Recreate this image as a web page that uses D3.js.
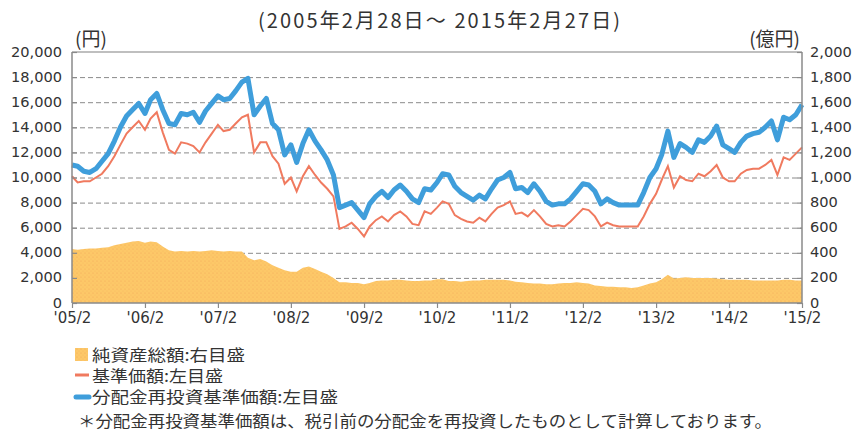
<!DOCTYPE html>
<meta charset="utf-8">
<style>
body { margin: 0; background: #fff; }
text { fill: #333; }
.jp { font-family: "Noto Sans CJK JP", sans-serif; }
.num { font-family: "DejaVu Sans", sans-serif; font-size: 14.6px; }
</style>
<body>
<script src="https://cdn.jsdelivr.net/npm/d3@7"></script>
<script>

// months, 2005/2 .. 2015/2 (one point per month)
var months = [
  "2005-02","2005-03","2005-04","2005-05","2005-06","2005-07","2005-08","2005-09","2005-10","2005-11","2005-12",
  "2006-01","2006-02","2006-03","2006-04","2006-05","2006-06","2006-07","2006-08","2006-09","2006-10","2006-11","2006-12",
  "2007-01","2007-02","2007-03","2007-04","2007-05","2007-06","2007-07","2007-08","2007-09","2007-10","2007-11","2007-12",
  "2008-01","2008-02","2008-03","2008-04","2008-05","2008-06","2008-07","2008-08","2008-09","2008-10","2008-11","2008-12",
  "2009-01","2009-02","2009-03","2009-04","2009-05","2009-06","2009-07","2009-08","2009-09","2009-10","2009-11","2009-12",
  "2010-01","2010-02","2010-03","2010-04","2010-05","2010-06","2010-07","2010-08","2010-09","2010-10","2010-11","2010-12",
  "2011-01","2011-02","2011-03","2011-04","2011-05","2011-06","2011-07","2011-08","2011-09","2011-10","2011-11","2011-12",
  "2012-01","2012-02","2012-03","2012-04","2012-05","2012-06","2012-07","2012-08","2012-09","2012-10","2012-11","2012-12",
  "2013-01","2013-02","2013-03","2013-04","2013-05","2013-06","2013-07","2013-08","2013-09","2013-10","2013-11","2013-12",
  "2014-01","2014-02","2014-03","2014-04","2014-05","2014-06","2014-07","2014-08","2014-09","2014-10","2014-11","2014-12",
  "2015-01","2015-02"
];

// 分配金再投資基準価額 (円)
var reinvested = [
  11000,10900,10500,10400,10700,11300,11900,12900,14000,14900,15400,
  15900,15100,16200,16700,15400,14300,14200,15100,15000,15200,14400,15300,
  15900,16500,16200,16300,16900,17600,17900,15000,15700,16300,14300,13800,
  11800,12600,11200,12700,13800,12900,12200,11400,10200,7600,7800,8000,
  7400,6800,7900,8500,8900,8400,9000,9400,8900,8300,8000,9100,
  9000,9600,10300,10200,9300,8800,8500,8200,8600,8300,9100,9800,
  10000,10400,9100,9200,8800,9500,8900,8100,7800,7900,7900,8300,
  8900,9500,9400,8900,7900,8300,8000,7800,7800,7800,7800,8800,
  10000,10700,11800,13700,11600,12700,12400,12000,13000,12800,13300,14100,
  12600,12300,12000,12800,13300,13500,13600,14000,14500,13000,14800,14600,
  15000,15800
];

// 基準価額 (円)
var nav = [
  10100,9600,9700,9700,10000,10300,10900,11700,12600,13500,14000,
  14500,13800,14700,15200,13600,12200,11900,12800,12700,12500,12000,12800,
  13500,14200,13700,13800,14300,14800,15000,12000,12800,12800,11700,11100,
  9500,10000,8900,10100,10900,10200,9600,9100,8500,5900,6100,6400,
  5900,5300,6100,6600,6900,6500,7000,7300,6900,6300,6200,7300,
  7100,7600,8100,7900,7000,6700,6500,6400,6800,6500,7100,7600,
  7800,8100,7100,7200,6900,7400,6900,6300,6100,6200,6100,6500,
  7000,7500,7400,6900,6100,6400,6200,6100,6100,6100,6100,6900,
  7900,8700,9800,10900,9200,10100,9800,9700,10300,10100,10500,11000,
  10000,9700,9700,10300,10600,10700,10700,11000,11400,10200,11600,11400,
  11900,12400
];

// 純資産総額 (億円)
var netAssets = [
  430,425,430,435,435,440,445,460,470,480,490,
  495,480,490,485,450,420,410,415,410,415,410,415,
  420,415,410,415,410,410,360,340,350,330,300,280,
  260,250,250,280,290,270,250,230,200,165,165,160,
  160,150,160,175,180,180,185,185,180,175,175,180,
  180,190,190,175,175,170,175,180,180,185,185,185,
  185,180,170,165,160,155,155,150,150,155,160,160,
  165,160,155,140,135,130,130,125,125,120,125,140,
  155,165,190,225,195,200,205,200,200,200,200,195,
  190,185,185,185,185,180,180,180,180,180,185,185,
  180,180
];

var leftTicks = [0,2000,4000,6000,8000,10000,12000,14000,16000,18000,20000];
var rightTicks = [0,200,400,600,800,1000,1200,1400,1600,1800,2000];
var yearTicks = ["2005-02","2006-02","2007-02","2008-02","2009-02","2010-02","2011-02","2012-02","2013-02","2014-02","2015-02"];

var titleText = "(2005年2月28日～ 2015年2月27日)";
var legendItems = ["純資産総額:右目盛", "基準価額:左目盛", "分配金再投資基準価額:左目盛"];
var legendWidths = [153, 131, 246];
var noteText = "＊分配金再投資基準価額は、税引前の分配金を再投資したものとして計算しております。";

var W = 857, H = 434;
var plot = {left: 72, right: 802, top: 52, bottom: 303};

var parse = d3.timeParse("%Y-%m");
var dates = months.map(parse);

var x = d3.scaleTime()
    .domain([parse("2005-02"), parse("2015-02")])
    .range([plot.left, plot.right]);
var yL = d3.scaleLinear().domain([0, 20000]).range([plot.bottom, plot.top]);
var yR = d3.scaleLinear().domain([0, 2000]).range([plot.bottom, plot.top]);

var svg = d3.select("body").append("svg")
    .attr("width", W)
    .attr("height", H);

// dotted fill for the area
var pat = svg.append("defs").append("pattern")
    .attr("id", "dots")
    .attr("width", 4).attr("height", 4)
    .attr("patternUnits", "userSpaceOnUse");
pat.append("rect").attr("width", 4).attr("height", 4).attr("fill", "#fdc868");
pat.append("circle").attr("cx", 1).attr("cy", 1).attr("r", 0.6).attr("fill", "#f3a75a");
pat.append("circle").attr("cx", 3).attr("cy", 3).attr("r", 0.5).attr("fill", "#f7b860");

// grid lines
svg.append("g")
  .selectAll("line")
  .data(leftTicks.filter(function(d) { return d > 0 && d < 20000; }))
  .enter().append("line")
    .attr("x1", plot.left).attr("x2", plot.right)
    .attr("y1", function(d) { return yL(d) + 0.5; })
    .attr("y2", function(d) { return yL(d) + 0.5; })
    .attr("stroke", "#8a8a8a")
    .attr("stroke-width", 1)
    .attr("stroke-dasharray", "5,3");

svg.append("line")
    .attr("x1", plot.left).attr("x2", plot.right)
    .attr("y1", yL(20000)).attr("y2", yL(20000))
    .attr("stroke", "#aaa")
    .attr("stroke-width", 1.5);

// net assets area
var area = d3.area()
    .x(function(d, i) { return x(dates[i]); })
    .y0(yR(0))
    .y1(function(d) { return yR(d); });

svg.append("path")
    .datum(netAssets)
    .attr("d", area)
    .attr("fill", "url(#dots)");

// lines
var lineL = d3.line()
    .x(function(d, i) { return x(dates[i]); })
    .y(function(d) { return yL(d); });

svg.append("path")
    .datum(nav)
    .attr("d", lineL)
    .attr("fill", "none")
    .attr("stroke", "#f07a5f")
    .attr("stroke-width", 2);

svg.append("path")
    .datum(reinvested)
    .attr("d", lineL)
    .attr("fill", "none")
    .attr("stroke", "#3f9edb")
    .attr("stroke-width", 5)
    .attr("stroke-linejoin", "round");

// axes
var leftAxis = d3.axisLeft(yL)
    .tickValues(leftTicks)
    .tickSize(-5)
    .tickPadding(10)
    .tickFormat(d3.format(","));
var gL = svg.append("g")
    .attr("class", "num")
    .attr("transform", "translate(" + plot.left + ",0)")
    .call(leftAxis);

var rightAxis = d3.axisRight(yR)
    .tickValues(rightTicks)
    .tickSize(-5)
    .tickPadding(8)
    .tickFormat(d3.format(","));
var gR = svg.append("g")
    .attr("class", "num")
    .attr("transform", "translate(" + plot.right + ",0)")
    .call(rightAxis);

var bottomAxis = d3.axisBottom(x)
    .tickValues(yearTicks.map(parse))
    .tickSize(5)
    .tickPadding(4)
    .tickFormat(d3.timeFormat("'%y/%-m"));
var gB = svg.append("g")
    .attr("class", "num")
    .attr("transform", "translate(0," + plot.bottom + ")")
    .call(bottomAxis);

[gL, gR, gB].forEach(function(g) {
  g.attr("font-family", null).attr("font-size", null);
  g.select(".domain").attr("stroke", "#8a8a8a").attr("stroke-width", 1.5);
  g.selectAll(".tick line").attr("stroke", "#8a8a8a").attr("stroke-width", 1.2);
  g.selectAll(".tick text").attr("fill", "#333");
});
gL.select(".domain").attr("d", "M0," + plot.bottom + "V" + plot.top);
gR.select(".domain").attr("d", "M0," + plot.bottom + "V" + plot.top);
gB.select(".domain").attr("d", "M" + plot.left + ",0H" + plot.right);
gB.selectAll(".tick text").attr("font-size", "15px");
gR.selectAll(".tick text").attr("dy", "0.28em");
gL.selectAll(".tick text").attr("dy", "0.28em");

// titles / unit labels
svg.append("text")
    .attr("class", "jp")
    .attr("x", 258).attr("y", 28)
    .attr("font-size", "20px")
    .attr("textLength", 362)
    .attr("lengthAdjust", "spacing")
    .text(titleText);

svg.append("text")
    .attr("class", "jp")
    .attr("x", 75).attr("y", 46)
    .attr("font-size", "19px")
    .text("(円)");

svg.append("text")
    .attr("class", "jp")
    .attr("x", 800).attr("y", 46)
    .attr("text-anchor", "end")
    .attr("font-size", "19px")
    .text("(億円)");

// legend
var leg = svg.append("g");
leg.append("rect")
    .attr("x", 75).attr("y", 348)
    .attr("width", 13).attr("height", 13)
    .attr("fill", "url(#dots)");
leg.append("line")
    .attr("x1", 75).attr("x2", 89)
    .attr("y1", 375).attr("y2", 375)
    .attr("stroke", "#f07a5f").attr("stroke-width", 3);
leg.append("line")
    .attr("x1", 76).attr("x2", 89)
    .attr("y1", 397).attr("y2", 397)
    .attr("stroke", "#3f9edb").attr("stroke-width", 5)
    .attr("stroke-linecap", "round");

leg.selectAll("text.item")
  .data(legendItems)
  .enter().append("text")
    .attr("class", "jp item")
    .attr("x", 92)
    .attr("y", function(d, i) { return 361 + i * 21; })
    .attr("font-size", "16px")
    .attr("textLength", function(d, i) { return legendWidths[i]; })
    .attr("lengthAdjust", "spacingAndGlyphs")
    .text(function(d) { return d; });

svg.append("text")
    .attr("class", "jp")
    .attr("x", 78).attr("y", 427)
    .attr("font-size", "16px")
    .attr("textLength", 694)
    .attr("lengthAdjust", "spacingAndGlyphs")
    .text(noteText);

</script>
</body>
